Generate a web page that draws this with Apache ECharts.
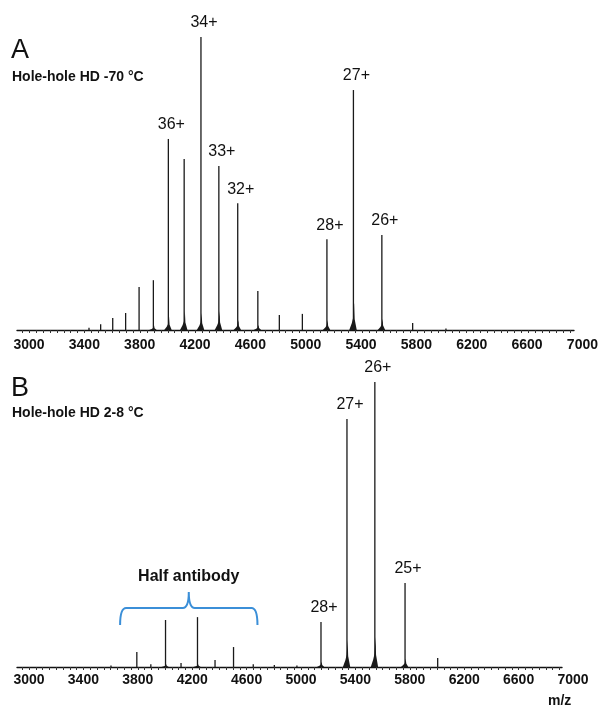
<!DOCTYPE html>
<html>
<head>
<meta charset="utf-8">
<script src="https://cdn.jsdelivr.net/npm/echarts@6/dist/echarts.min.js"></script>
<style>
  html, body { margin: 0; padding: 0; background: #fff; }
  #chart { width: 601px; height: 706px; }
</style>
</head>
<body>
<div id="chart"></div>
<script>
// Panel A: Hole-hole HD -70 °C  (relative intensity, 34+ = 100)
const peakMzA  = [3432, 3516, 3603, 3696, 3793, 3896, 4004, 4118, 4239, 4368, 4504, 4649, 4804, 4970, 5147, 5338, 5543, 5765, 6005]
const peakIntA = [0.8,  2,    4.1,  5.8,  14.7, 17,   65.2, 58.4, 100,  56,   43.3, 13.3, 5.1,  5.5,  31,   81.9, 32.4, 2.4,  0.5]
// adduct clusters at the foot of the main peaks
const footMzA  = [3896, 4004, 4118, 4239, 4368, 4504, 4649, 5147, 5338, 5543]
const footIntA = [1.5,  4.5,  6.5,  5.8,  6.5,  3.4,  1.7,  3.4,  9.2,  3.8]
const labelMzA   = [4004, 4239, 4368, 4504, 5147, 5338, 5543]
const labelTextA = ['36+', '34+', '33+', '32+', '28+', '27+', '26+']

// Panel B: Hole-hole HD 2-8 °C  (relative intensity, 26+ = 100)
const peakMzB  = [3603, 3793, 3896, 4004, 4118, 4239, 4368, 4504, 4649, 4804, 4970, 5147, 5338, 5543, 5765, 6005]
const peakIntB = [0.5,  5.3,  1,    16.5, 1.4,  17.5, 2.5,  7,    1,    0.7,  0.5,  15.8, 87,   100,  29.5, 3.2]
const footMzB  = [4004, 4239, 5147, 5338, 5543, 5765]
const footIntB = [1,    1,    1.8,  9.5,  10.5, 3]
const labelMzB   = [5147, 5338, 5543, 5765]
const labelTextB = ['28+', '27+', '26+', '25+']

// half antibody bracket range (m/z)
const halfAbRange = [3670, 4680]

const tickLabels = [3000, 3400, 3800, 4200, 4600, 5000, 5400, 5800, 6200, 6600, 7000]

const FONT = 'Liberation Sans, Arial, sans-serif'
const INK = '#111'

const minorTicks = []
for (let v = 2950; v <= 6900; v += 50) minorTicks.push(v)

function sticks(mz, ints) {
  return mz.map((m, i) => [m, ints[i]])
}
function labelData(lmz, ltext, mz, ints) {
  return lmz.map((m, i) => [m, ints[mz.indexOf(m)], ltext[i]])
}

function renderStick(params, api) {
  const base = api.coord([api.value(0), 0])
  const top = api.coord([api.value(0), api.value(1)])
  return {
    type: 'line',
    shape: { x1: base[0], y1: base[1], x2: top[0], y2: top[1] },
    style: { stroke: '#1a1a1a', lineWidth: 1.3 }
  }
}

function renderFoot(params, api) {
  const m = api.value(0), h = api.value(1)
  const pts = [
    api.coord([m - 30, 0]),
    api.coord([m - 12, h * 0.25]),
    api.coord([m - 2, h * 0.45]),
    api.coord([m + 5, h]),
    api.coord([m + 9, h * 0.4]),
    api.coord([m + 24, 0])
  ]
  return {
    type: 'polygon',
    shape: { points: pts },
    style: { fill: '#1a1a1a' }
  }
}

function renderBrace(params, api) {
  const a = api.value(0), b = api.value(1), mid = (a + b) / 2
  const p1 = api.coord([a, 14.7])
  const p2 = api.coord([b, 14.7])
  const bar = api.coord([mid, 20.7])[1]
  const tip = api.coord([mid, 26.3])
  const txt = api.coord([mid, 31.6])
  const x1 = p1[0], x2 = p2[0], xm = tip[0], yEnd = p1[1], r = 6
  const d = `M${x1},${yEnd} Q${x1},${bar} ${x1 + r},${bar} L${xm - r},${bar} ` +
    `Q${xm},${bar} ${xm},${tip[1]} Q${xm},${bar} ${xm + r},${bar} ` +
    `L${x2 - r},${bar} Q${x2},${bar} ${x2},${yEnd}`
  return {
    type: 'group',
    children: [
      { type: 'path', shape: { pathData: d }, style: { stroke: '#3b8fd8', lineWidth: 2, fill: null } },
      { type: 'text', x: txt[0], y: txt[1],
        style: { text: 'Half antibody', fill: INK, font: 'bold 16px ' + FONT, align: 'center', verticalAlign: 'middle' } }
    ]
  }
}

function dataAxis(grid, min, max) {
  return {
    type: 'value', gridIndex: grid, min: min, max: max,
    axisLine: { show: true, onZero: false, lineStyle: { color: '#111', width: 1.4 } },
    axisTick: { show: true, customValues: minorTicks, length: 3, lineStyle: { color: '#333' } },
    axisLabel: { show: false },
    splitLine: { show: false }
  }
}
function labelAxis(grid, margin) {
  return {
    type: 'value', gridIndex: grid, min: 3000, max: 7000, interval: 400,
    axisLine: { show: false }, axisTick: { show: false }, splitLine: { show: false },
    axisLabel: { show: true, margin: margin, color: INK, fontFamily: FONT, fontWeight: 'bold', fontSize: 14,
      customValues: tickLabels, formatter: v => String(v) }
  }
}
function hiddenY(grid) {
  return { type: 'value', gridIndex: grid, min: 0, max: 100, show: false }
}

function peakLabels(data, x, y) {
  return {
    type: 'scatter', xAxisIndex: x, yAxisIndex: y, data: data,
    symbolSize: 0, silent: true,
    itemStyle: { opacity: 1 },
    label: {
      show: true, position: 'top', distance: 6, offset: [3, 0], opacity: 1,
      formatter: p => p.value[2], color: INK, fontFamily: FONT, fontSize: 16
    }
  }
}

const chart = echarts.init(document.getElementById('chart'), null, { renderer: 'canvas' })

chart.setOption({
  animation: false,
  backgroundColor: '#fff',
  title: [
    { text: 'A', left: 11, top: 37, padding: 0, textStyle: { fontFamily: FONT, fontSize: 27, fontWeight: 'normal', color: INK } },
    { text: 'Hole-hole HD -70 °C', left: 12, top: 70, padding: 0, textStyle: { fontFamily: FONT, fontSize: 14, fontWeight: 'bold', color: INK } },
    { text: 'B', left: 11, top: 375, padding: 0, textStyle: { fontFamily: FONT, fontSize: 27, fontWeight: 'normal', color: INK } },
    { text: 'Hole-hole HD 2-8 °C', left: 12, top: 406, padding: 0, textStyle: { fontFamily: FONT, fontSize: 14, fontWeight: 'bold', color: INK } },
    { text: 'm/z', left: 548, top: 694, padding: 0, textStyle: { fontFamily: FONT, fontSize: 14, fontWeight: 'bold', color: INK } }
  ],
  grid: [
    { left: 17, right: 27, top: 37, bottom: 376 },
    { left: 29, right: 17, top: 37, bottom: 376 },
    { left: 17, right: 39, top: 382, bottom: 39 },
    { left: 29, right: 28, top: 382, bottom: 39 }
  ],
  xAxis: [
    dataAxis(0, 2913, 6928),
    labelAxis(1, 8),
    dataAxis(2, 2912, 6919),
    labelAxis(3, 6)
  ],
  yAxis: [hiddenY(0), hiddenY(1), hiddenY(2), hiddenY(3)],
  series: [
    { type: 'custom', xAxisIndex: 0, yAxisIndex: 0, renderItem: renderFoot, data: sticks(footMzA, footIntA) },
    { type: 'custom', xAxisIndex: 0, yAxisIndex: 0, renderItem: renderStick, data: sticks(peakMzA, peakIntA) },
    peakLabels(labelData(labelMzA, labelTextA, peakMzA, peakIntA), 0, 0),
    { type: 'custom', xAxisIndex: 2, yAxisIndex: 2, renderItem: renderFoot, data: sticks(footMzB, footIntB) },
    { type: 'custom', xAxisIndex: 2, yAxisIndex: 2, renderItem: renderStick, data: sticks(peakMzB, peakIntB) },
    peakLabels(labelData(labelMzB, labelTextB, peakMzB, peakIntB), 2, 2),
    { type: 'custom', xAxisIndex: 2, yAxisIndex: 2, renderItem: renderBrace, data: [halfAbRange], clip: false }
  ]
})

window.addEventListener('resize', () => chart.resize())
</script>
</body>
</html>
